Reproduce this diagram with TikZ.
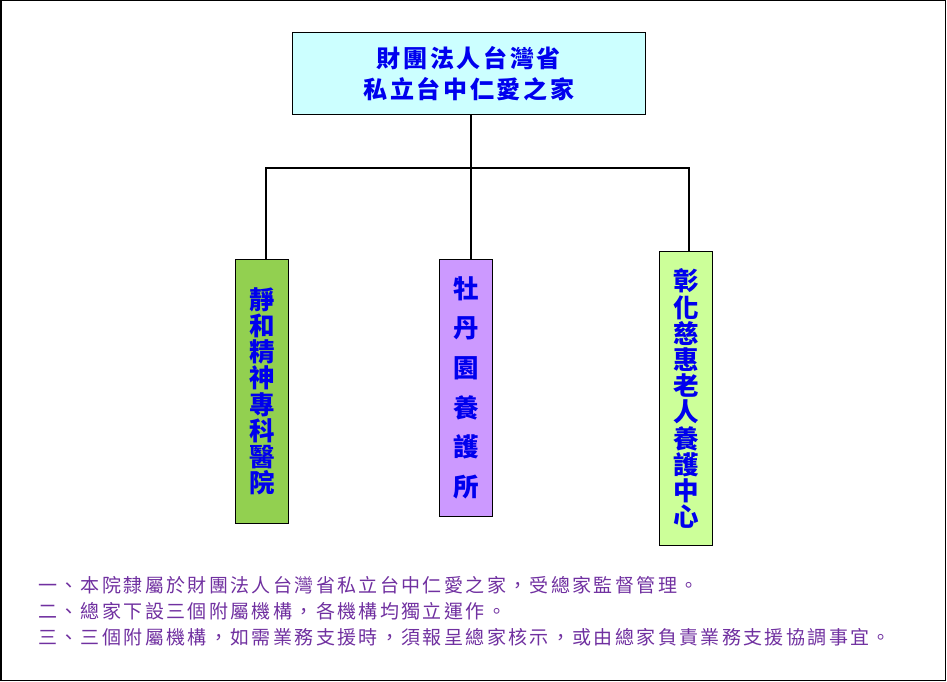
\documentclass[tikz,border=0pt]{standalone}
\usepackage{fontspec}
\newfontfamily\cjk{Noto Sans CJK TC}
\definecolor{topfill}{HTML}{CCFFFF}
\definecolor{leftfill}{HTML}{92D050}
\definecolor{midfill}{HTML}{CC99FF}
\definecolor{rightfill}{HTML}{CCFF99}
\definecolor{txtblue}{HTML}{0000EE}
\definecolor{notepurple}{HTML}{7030A0}
\begin{document}
\begin{tikzpicture}[x=1pt,y=-1pt,
  box/.style={draw=black, line width=1pt, inner sep=0pt, text=txtblue, align=center},
  vbox/.style={box, minimum width=52.6pt},
  conn/.style={draw=black, line width=2pt, line join=miter},
  note/.style={anchor=base west, inner sep=0pt, text=notepurple,
    font=\cjk\fontsize{19}{26}\selectfont\addfontfeature{LetterSpace=12.5}}]
\useasboundingbox (0,0) rectangle (947,682);
\draw[line width=1.5pt] (0.75,0.75) rectangle (945.6,680.6);

\node[box, fill=topfill, minimum width=352.3pt, minimum height=82.7pt,
  font=\cjk\bfseries\fontsize{24}{31.6}\selectfont\addfontfeature{LetterSpace=11}]
  (top) at (468.85,73.65) {財團法人台灣省\\私立台中仁愛之家};

\node[vbox, fill=leftfill, minimum height=264pt,
  font=\cjk\bfseries\fontsize{25.5}{26.2}\selectfont]
  (left) at (262,391.3) {靜\\和\\精\\神\\專\\科\\醫\\院};
\node[vbox, fill=midfill, minimum height=256.7pt,
  font=\cjk\bfseries\fontsize{25.5}{39.6}\selectfont]
  (mid) at (465.8,387.7) {牡\\丹\\園\\養\\護\\所};
\node[vbox, fill=rightfill, minimum height=294pt,
  font=\cjk\bfseries\fontsize{25.5}{26.2}\selectfont]
  (right) at (686,398.7) {彰\\化\\慈\\惠\\老\\人\\養\\護\\中\\心};

\coordinate (j) at (470.5,168);
\coordinate (jl) at (265.7,168);
\coordinate (jr) at (689,168);
\draw[conn] (j |- top.south) -- (j);
\draw[conn] (jl |- left.north) -- (jl) -- (jr) -- (jr |- right.north);
\draw[conn] (j) -- (j |- mid.north);

\node[note] (n1) at (38,592) {一、本院隸屬於財團法人台灣省私立台中仁愛之家，受總家監督管理。};
\node[note] (n2) at (38,618) {二、總家下設三個附屬機構，各機構均獨立運作。};
\node[note] (n3) at (38,644) {三、三個附屬機構，如需業務支援時，須報呈總家核示，或由總家負責業務支援協調事宜。};
\end{tikzpicture}
\end{document}
